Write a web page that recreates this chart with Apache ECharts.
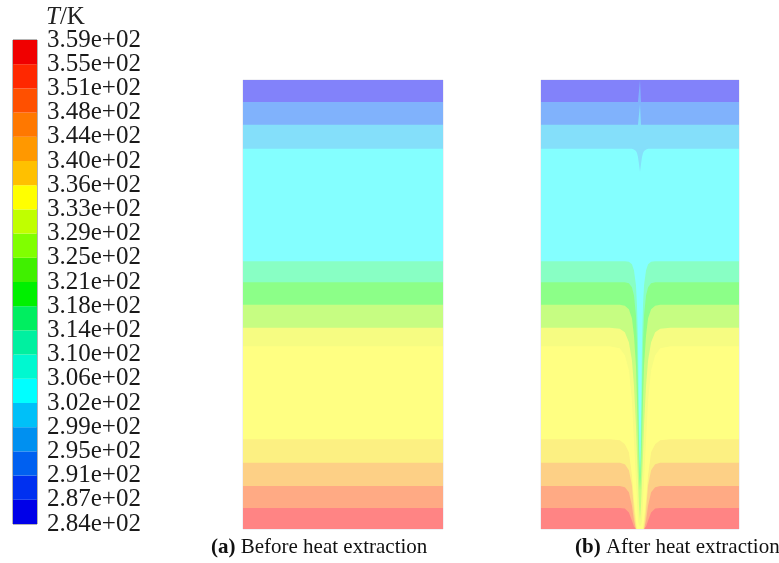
<!DOCTYPE html>
<html><head><meta charset="utf-8">
<script src="https://cdn.jsdelivr.net/npm/echarts@6/dist/echarts.min.js"></script>
<style>html,body{margin:0;padding:0;background:#fff}#c{width:779px;height:563px}</style>
</head><body><div id="c"></div>
<script>
// ---------- Colour scale (legend), from coldest (bottom) to hottest (top) ----------
const scaleTickLabels = ['2.84e+02','2.87e+02','2.91e+02','2.95e+02','2.99e+02','3.02e+02','3.06e+02',
  '3.10e+02','3.14e+02','3.18e+02','3.21e+02','3.25e+02','3.29e+02','3.33e+02','3.36e+02','3.40e+02',
  '3.44e+02','3.48e+02','3.51e+02','3.55e+02','3.59e+02'];
const scaleLevels = ['284-287','287-291','291-295','295-299','299-302','302-306','306-310','310-314',
  '314-318','318-321','321-325','325-329','329-333','333-336','336-340','340-344','344-348','348-351',
  '351-355','355-359'];
const scaleColors = ['#0000e8','#0030f0','#0060f0','#0090f0','#00c0f8','#00ffff','#00f8d0','#00f0a0',
  '#00ee60','#00f000','#40f000','#80ff00','#c0ff00','#ffff00','#ffc000','#ff9800','#ff7800','#ff5000',
  '#ff2800','#f00000'];

// ---------- Temperature bands in the two panels, from top (cold) to bottom (hot) ----------
const bandColors = ['#8282fa','#80b2fc','#84dffa','#84ffff','#88ffc4','#8cff88','#c6fd82','#f6fc82',
  '#ffff82','#fcf082','#fdd086','#ffaa84','#ff8484'];
const depthMax = 448.6;

// Panel (a): lower boundary depth of each band (flat contours)
const xA = [-100, 100];
const boundariesA = [22, 44.6, 68.6, 181, 202, 224.6, 247.6, 266, 359, 382.3, 405.6, 427.6, 448.6];

// Panel (b): lower boundary depth of each band across the section (well at x = 0)
const xB = [-98,-30,-20,-15,-11,-8,-6,-4,-3,-2,-1,0,1,2,3,4,6,8,11,15,20,30,98];
const bB1  = [22,22,22,22,22,22,22,22,22,22,22,0,22,22,22,22,22,22,22,22,22,22,22];
const bB2  = [44.6,44.6,44.6,44.6,44.6,44.6,44.6,44.6,44.6,44.6,44.6,24,44.6,44.6,44.6,44.6,44.6,44.6,44.6,44.6,44.6,44.6,44.6];
const bB3  = [68.6,68.6,68.6,68.6,68.6,68.8,69.5,71,73,77,84,92,84,77,73,71,69.5,68.8,68.6,68.6,68.6,68.6,68.6];
const bB4  = [181,181,181,181,181.5,184,190,205,225,262,340,389,340,262,225,205,190,184,181.5,181,181,181,181];
const bB5  = [202,202,202,202,203,207,215,235,262,310,370,400,370,310,262,235,215,207,203,202,202,202,202];
const bB6  = [224.6,224.6,224.6,225.5,229,238,255,285,320,360,395,410,395,360,320,285,255,238,229,225.5,224.6,224.6,224.6];
const bB7  = [247.6,247.6,248.5,252,262,280,305,345,375,400,425,440,425,400,375,345,305,280,262,252,248.5,247.6,247.6];
const bB8  = [266,266,268,275,290,320,360,400,420,440,445,446,445,440,420,400,360,320,290,275,268,266,266];
const bB9  = [359,359,360,364,372,395,420,440,448.6,448.6,448.6,448.6,448.6,448.6,448.6,440,420,395,372,364,360,359,359];
const bB10 = [382.3,382.3,382.5,384,390,405,430,448.6,448.6,448.6,448.6,448.6,448.6,448.6,448.6,448.6,430,405,390,384,382.5,382.3,382.3];
const bB11 = [405.6,405.6,405.6,407,412,425,440,448.6,448.6,448.6,448.6,448.6,448.6,448.6,448.6,448.6,440,425,412,407,405.6,405.6,405.6];
const bB12 = [427.6,427.6,427.6,428,432,440,446,448.6,448.6,448.6,448.6,448.6,448.6,448.6,448.6,448.6,446,440,432,428,427.6,427.6,427.6];
const bB13 = [448.6,448.6,448.6,448.6,448.6,448.6,448.6,448.6,448.6,448.6,448.6,448.6,448.6,448.6,448.6,448.6,448.6,448.6,448.6,448.6,448.6,448.6,448.6];
const boundariesB = [bB1,bB2,bB3,bB4,bB5,bB6,bB7,bB8,bB9,bB10,bB11,bB12,bB13];

// ---------- Build options ----------
const serif = 'Liberation Serif, Times New Roman, serif';
const series = [];
series.push({
  type: 'bar', xAxisIndex: 0, yAxisIndex: 0, barWidth: '100%', silent: true,
  data: scaleLevels.map((l, i) => ({ name: l, value: 1, itemStyle: { color: scaleColors[i] } }))
});
function bandArea(xIdx, yIdx, xs, ys, color) {
  return {
    type: 'line', xAxisIndex: xIdx, yAxisIndex: yIdx, silent: true, smooth: false,
    symbol: 'none', showSymbol: false, lineStyle: { width: 0, opacity: 0 },
    areaStyle: { color: color, opacity: 1, origin: 'start' },
    data: xs.map((x, i) => [x, ys[i]])
  };
}
// draw deepest band first so shallower bands cover the upper part
for (let k = bandColors.length - 1; k >= 0; k--) {
  series.push(bandArea(1, 2, xA, xA.map(() => boundariesA[k]), bandColors[k]));
}
for (let k = bandColors.length - 1; k >= 0; k--) {
  series.push(bandArea(2, 3, xB, boundariesB[k], bandColors[k]));
}

const hiddenVal = (grid, min, max, extra) => Object.assign({
  type: 'value', gridIndex: grid, min: min, max: max, show: false,
  splitLine: { show: false }, axisLine: { show: false }, axisTick: { show: false }, axisLabel: { show: false }
}, extra || {});

const option = {
  animation: false,
  backgroundColor: '#ffffff',
  title: [
    { text: '{i|T}/K', left: 46, top: 5, padding: 0,
      textStyle: { fontFamily: serif, fontSize: 25, fontWeight: 'normal', color: '#222',
        rich: { i: { fontFamily: serif, fontSize: 25, fontStyle: 'italic', color: '#222' } } } },
    { text: '{b|(a)} Before heat extraction', left: 211, top: 537, padding: 0,
      textStyle: { fontFamily: serif, fontSize: 21, fontWeight: 'normal', color: '#111',
        rich: { b: { fontFamily: serif, fontSize: 21, fontWeight: 'bold', color: '#111' } } } },
    { text: '{b|(b)} After heat extraction', left: 575, top: 537, padding: 0,
      textStyle: { fontFamily: serif, fontSize: 21, fontWeight: 'normal', color: '#111',
        rich: { b: { fontFamily: serif, fontSize: 21, fontWeight: 'bold', color: '#111' } } } }
  ],
  grid: [
    { left: 13, top: 40, width: 24, height: 484, show: true, borderColor: '#6a6a6a', borderWidth: 1,
      containLabel: false, outerBoundsMode: 'none' },
    { left: 243, top: 80, width: 200, height: 449, show: true, borderColor: '#e2e2ea', borderWidth: 1,
      containLabel: false, outerBoundsMode: 'none' },
    { left: 541, top: 80, width: 198, height: 449, show: true, borderColor: '#e2e2ea', borderWidth: 1,
      containLabel: false, outerBoundsMode: 'none' }
  ],
  xAxis: [
    hiddenVal(0, 0, 1),
    hiddenVal(1, -100, 100),
    hiddenVal(2, -98, 98)
  ],
  yAxis: [
    { type: 'category', gridIndex: 0, data: scaleLevels, show: false, position: 'left' },
    { type: 'category', gridIndex: 0, data: scaleTickLabels, boundaryGap: false, position: 'right',
      axisLine: { show: false }, axisTick: { show: false }, splitLine: { show: false },
      axisLabel: { show: true, interval: 0, margin: 10, fontFamily: serif, fontSize: 25,
        color: '#1a1a1a', hideOverlap: false } },
    hiddenVal(1, 0, depthMax, { inverse: true }),
    hiddenVal(2, 0, depthMax, { inverse: true })
  ],
  series: series
};
const chart = echarts.init(document.getElementById('c'), null, { renderer: 'canvas' });
chart.setOption(option);
</script>
</body></html>
